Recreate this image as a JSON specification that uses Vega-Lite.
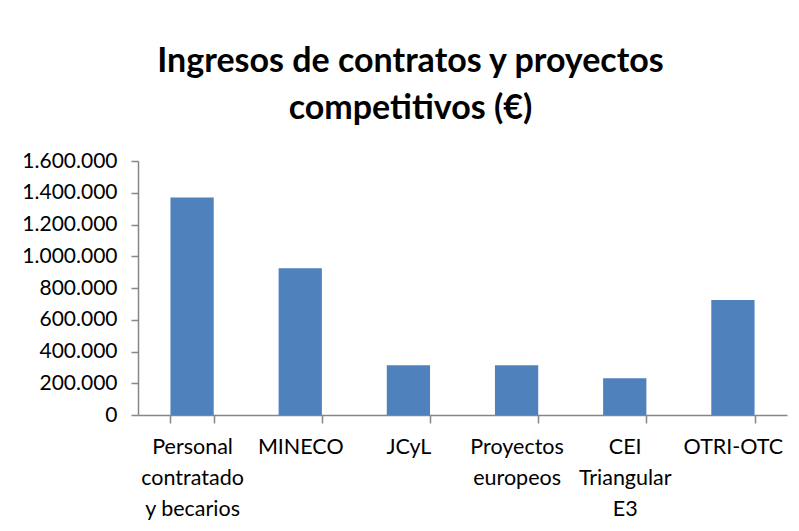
{
  "$schema": "https://vega.github.io/schema/vega-lite/v6.json",
  "autosize": "none",
  "width": 649,
  "height": 254,
  "padding": {"left": 138, "top": 161, "right": 12, "bottom": 116},
  "background": "white",
  "title": {
    "text": ["Ingresos de contratos y proyectos", "competitivos (€)"],
    "font": "Lato",
    "fontSize": 34,
    "fontWeight": "bold",
    "color": "#000000",
    "lineHeight": 47,
    "anchor": "middle",
    "frame": "group",
    "dx": -52,
    "offset": 24
  },
  "data": {
    "values": [
      {"categoria": "Personal contratado y becarios", "ingresos": 1370000},
      {"categoria": "MINECO", "ingresos": 924000},
      {"categoria": "JCyL", "ingresos": 313000},
      {"categoria": "Proyectos europeos", "ingresos": 313000},
      {"categoria": "CEI Triangular E3", "ingresos": 231000},
      {"categoria": "OTRI-OTC", "ingresos": 724000}
    ]
  },
  "mark": {"type": "bar", "color": "#4F81BD"},
  "encoding": {
    "x": {
      "field": "categoria",
      "type": "nominal",
      "sort": null,
      "title": null,
      "scale": {"paddingInner": 0.6, "paddingOuter": 0.3},
      "axis": {
        "labelAngle": 0,
        "tickBand": "extent",
        "tickSize": 8,
        "labelPadding": 13,
        "labelLineHeight": 31,
        "labelFontSize": 21.5,
        "labelFont": "Lato",
        "labelColor": "#000000",
        "labelExpr": "datum.value == 'Personal contratado y becarios' ? ['Personal', 'contratado', 'y becarios'] : datum.value == 'Proyectos europeos' ? ['Proyectos', 'europeos'] : datum.value == 'CEI Triangular E3' ? ['CEI', 'Triangular', 'E3'] : datum.value"
      }
    },
    "y": {
      "field": "ingresos",
      "type": "quantitative",
      "title": null,
      "scale": {"domain": [0, 1600000], "nice": false},
      "axis": {
        "values": [0, 200000, 400000, 600000, 800000, 1000000, 1200000, 1400000, 1600000],
        "format": ",d",
        "grid": false,
        "tickSize": 7,
        "labelPadding": 14,
        "labelFontSize": 21,
        "labelFont": "Lato",
        "labelColor": "#000000"
      }
    }
  },
  "config": {
    "locale": {
      "number": {"decimal": ",", "thousands": ".", "grouping": [3], "currency": ["", " €"]}
    },
    "view": {"stroke": null},
    "axis": {
      "domainColor": "#868686",
      "tickColor": "#868686",
      "domainWidth": 1.5,
      "tickWidth": 1.5
    }
  }
}
